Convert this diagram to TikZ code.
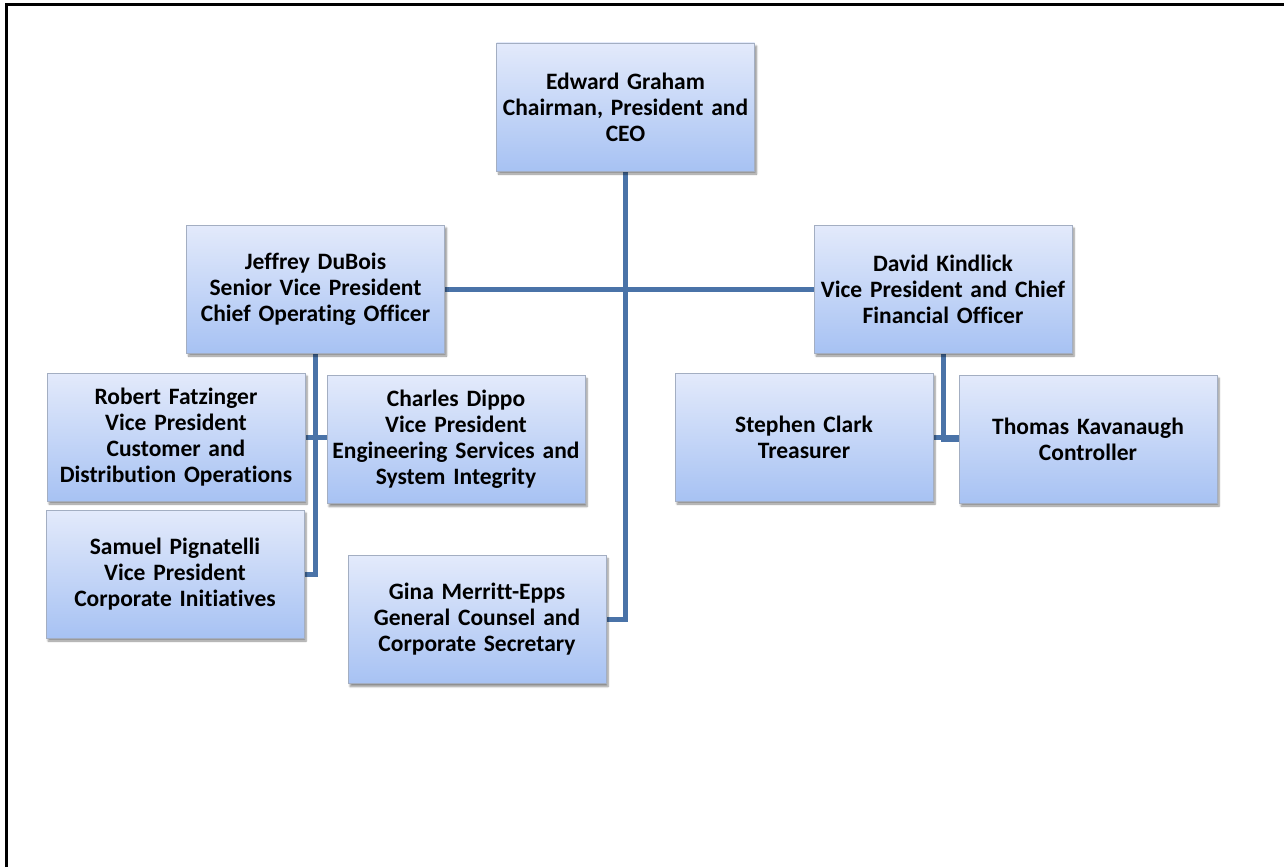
\documentclass[tikz,border=0pt]{standalone}
\usepackage{fontspec}
\setmainfont{Carlito}[Ligatures=NoCommon]
\usetikzlibrary{shadows.blur,backgrounds}
\definecolor{boxtop}{HTML}{E3EAFB}
\definecolor{boxbot}{HTML}{A7C2F3}
\definecolor{boxline}{HTML}{A3AEC2}
\definecolor{linkblue}{HTML}{4A73A8}
\tikzset{
  person/.style={draw=boxline, line width=0.8pt, top color=boxtop, bottom color=boxbot,
    minimum width=258pt, minimum height=128pt, inner sep=1pt, text width=256pt,
    align=center, font=\fontsize{23.5}{26}\selectfont\bfseries,
    blur shadow={shadow xshift=2pt, shadow yshift=-3pt, shadow blur steps=6, shadow opacity=45}},
  link/.style={draw=linkblue, line width=5pt},
  frame/.style={draw=black, line width=2.5pt}
}
\begin{document}
\begin{tikzpicture}[x=1pt,y=-1pt]
\useasboundingbox (0,0) rectangle (1284,867);
% page frame (left and top edges)
\draw[frame] (6.5,867) -- (6.5,4.5) -- (1284,4.5);

\node[person] (ceo)   at (625.5,107)  {Edward Graham\\Chairman, President and\\CEO};
\node[person] (coo)   at (315.5,289)  {Jeffrey DuBois\\Senior Vice President\\Chief Operating Officer};
\node[person] (cfo)   at (943,289)    {David Kindlick\\Vice President and Chief\\Financial Officer};
\node[person] (fatz)  at (176,437)    {Robert Fatzinger\\Vice President\\Customer and\\Distribution Operations};
\node[person] (dippo) at (456,439.5)  {Charles Dippo\\Vice President\\Engineering Services and\\System Integrity};
\node[person] (pign)  at (175,574)    {Samuel Pignatelli\\Vice President\\Corporate Initiatives};
\node[person] (gina)  at (477,619.5)  {Gina Merritt-Epps\\General Counsel and\\Corporate Secretary};
\node[person] (clark) at (804,437)    {Stephen Clark\\Treasurer};
\node[person] (kav)   at (1088,439)   {Thomas Kavanaugh\\Controller};

\begin{scope}[on background layer]
  \draw[link] (ceo.south) |- (gina.east);
  \draw[link] (coo.east) -- (cfo.west);
  \draw[link] (coo.south) |- (pign.east);
  \draw[link] (fatz.east) -- (fatz.east -| dippo.west);
  \draw[link] (cfo.south) |- (kav.west);
  \draw[link] (clark.east) -- (clark.east -| kav.west);
\end{scope}
\end{tikzpicture}
\end{document}
